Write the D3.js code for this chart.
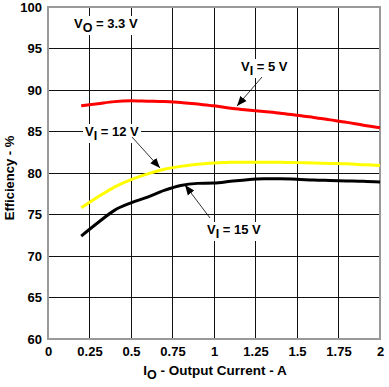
<!DOCTYPE html>
<html><head><meta charset="utf-8">
<script src="https://cdn.jsdelivr.net/npm/d3@7/dist/d3.min.js"></script>
<style>body{margin:0;background:#fff}svg{display:block}text{font-family:"Liberation Sans",Arial,sans-serif;font-weight:bold}</style>
</head><body>
<svg id="c" width="389" height="387"></svg>
<script>
const xTicks = [0,0.25,0.5,0.75,1,1.25,1.5,1.75,2];
const xTickLabels = ["0","0.25","0.5","0.75","1","1.25","1.5","1.75","2"];
const yTicks = [60,65,70,75,80,85,90,95,100];
const current = [0.2,0.3,0.4,0.5,0.6,0.7,0.8,0.9,1.0,1.1,1.2,1.3,1.4,1.5,1.6,1.7,1.8,1.9,2.0];
const eff5V  = [88.1,88.35,88.6,88.7,88.65,88.6,88.5,88.3,88.1,87.8,87.6,87.4,87.2,86.95,86.7,86.4,86.1,85.75,85.45];
const eff12V = [75.8,77.1,78.3,79.2,79.9,80.45,80.8,81.05,81.2,81.3,81.3,81.3,81.3,81.25,81.2,81.15,81.1,81.0,80.9];
const eff15V = [72.4,74.0,75.5,76.4,77.1,77.9,78.5,78.75,78.8,79.0,79.2,79.3,79.3,79.25,79.15,79.1,79.05,79.0,78.9];

const svg = d3.select("#c");
const L=48,R=380,T=7,B=339;
const x = d3.scaleLinear().domain([0,2]).range([L,R]);
const y = d3.scaleLinear().domain([60,100]).range([B,T]);

// grid
svg.append("g").selectAll("line").data(xTicks.slice(1,-1)).join("line")
  .attr("x1",d=>x(d)).attr("x2",d=>x(d)).attr("y1",T).attr("y2",B)
  .attr("stroke","#111").attr("stroke-width",1).attr("shape-rendering","crispEdges");
svg.append("g").selectAll("line").data(yTicks.slice(1,-1)).join("line")
  .attr("y1",d=>y(d)).attr("y2",d=>y(d)).attr("x1",L).attr("x2",R)
  .attr("stroke","#111").attr("stroke-width",1).attr("shape-rendering","crispEdges");

// axes via d3
const xa = svg.append("g").attr("transform",`translate(0,${B})`)
  .call(d3.axisBottom(x).tickValues(xTicks).tickFormat((d,i)=>xTickLabels[i]).tickSize(0).tickPadding(8));
const ya = svg.append("g").attr("transform",`translate(${L},0)`)
  .call(d3.axisLeft(y).tickValues(yTicks).tickFormat(d3.format("d")).tickSize(0).tickPadding(6));
[xa,ya].forEach(g=>{g.select(".domain").remove();g.selectAll("text").attr("font-size",13).attr("fill","#000")
  .attr("font-family","Liberation Sans, Arial, sans-serif").attr("font-weight","bold");});

// frame
svg.append("rect").attr("x",L).attr("y",T).attr("width",R-L).attr("height",B-T)
  .attr("fill","none").attr("stroke","#999").attr("stroke-width",2);

// labels with white background
function label(xp,yp,main,sub,rest){
  const g = svg.append("g");
  const t = g.append("text").attr("x",xp).attr("y",yp).attr("font-size",13).attr("fill","#000");
  t.append("tspan").text(main);
  t.append("tspan").attr("dy",4).attr("font-size",12.5).text(sub);
  t.append("tspan").attr("dy",-4).text(rest);
  const bb = t.node().getBBox();
  g.insert("rect","text").attr("x",bb.x-2).attr("y",bb.y).attr("width",bb.width+4).attr("height",bb.height).attr("fill","#fff");
}

// arrows
svg.append("defs").append("marker").attr("id","ah").attr("viewBox","0 0 10 10").attr("refX",10).attr("refY",5)
  .attr("markerWidth",10).attr("markerHeight",10).attr("markerUnits","userSpaceOnUse").attr("orient","auto")
  .append("path").attr("d","M0,1 L10,5 L0,9 Z").attr("fill","#000");

const line = d3.line().x((d,i)=>x(current[i])).y(d=>y(d)).curve(d3.curveMonotoneX);
[[eff5V,"#ff0000"],[eff12V,"#ffff00"],[eff15V,"#000000"]].forEach(([s,c])=>{
  svg.append("path").attr("d",line(s)).attr("fill","none").attr("stroke",c).attr("stroke-width",3);
});

label(74,28,"V","O"," = 3.3 V");
label(241,71,"V","I"," = 5 V");
label(85,136,"V","I"," = 12 V");
label(207,234,"V","I"," = 15 V");

const arrows = [[262,77,237,106],[132,137,160,168],[210,218,185,185]];
svg.append("g").selectAll("line").data(arrows).join("line")
  .attr("x1",d=>d[0]).attr("y1",d=>d[1]).attr("x2",d=>d[2]).attr("y2",d=>d[3])
  .attr("stroke","#000").attr("stroke-width",0.8).attr("marker-end","url(#ah)");

// axis titles
const xt = svg.append("text").attr("x",215).attr("y",375).attr("text-anchor","middle").attr("font-size",13.5);
xt.append("tspan").text("I");
xt.append("tspan").attr("dy",4).attr("font-size",12.5).text("O");
xt.append("tspan").attr("dy",-4).text(" - Output Current - A");
svg.append("text").attr("transform",`translate(14,178) rotate(-90)`).attr("text-anchor","middle")
  .attr("font-size",13).text("Efficiency - %");
</script>
</body></html>
